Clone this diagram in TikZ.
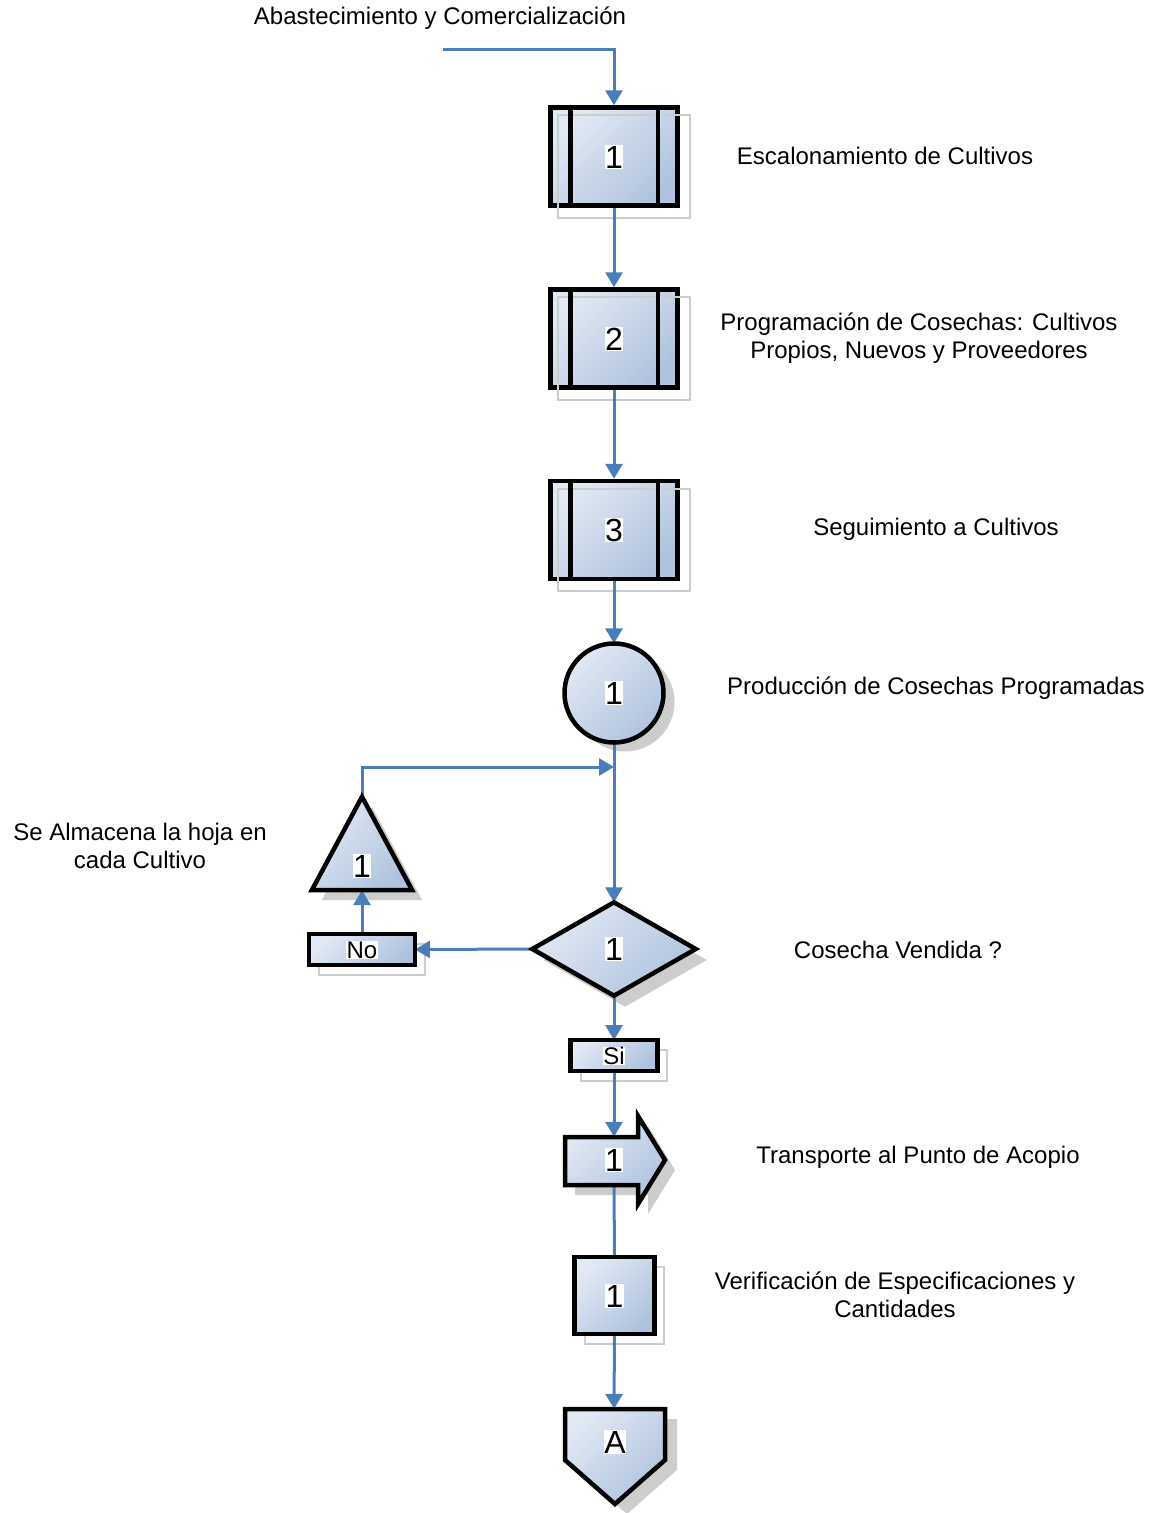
\documentclass[tikz,border=0pt]{standalone}
\usepackage{fontspec}
\setmainfont{Liberation Sans}
\usetikzlibrary{arrows.meta,shapes.geometric}
\definecolor{flowblue}{HTML}{4A7EBB}
\definecolor{filllight}{HTML}{E1E9F4}
\definecolor{filldark}{HTML}{B0C3DE}
\definecolor{shadowgray}{HTML}{CDCDCD}
\tikzset{
  conn/.style={draw=flowblue, line width=3pt, -{Triangle[length=15pt,width=17pt]}},
  link/.style={draw=flowblue, line width=3pt},
  symfill/.style={left color=filllight, right color=filldark, shading angle=45},
  symline/.style={draw=black, line width=4.5pt},
  boxnode/.style={symfill, symline, rectangle, inner sep=0pt},
  ghost/.style={rectangle, inner sep=0pt, draw=none},
  shadowline/.style={draw=shadowgray, line width=2pt},
  shadowfill/.style={fill=shadowgray, draw=none},
  num/.style={fill=white, inner sep=0.5pt, text height=23pt, text depth=0pt,
              font=\fontsize{32}{32}\selectfont},
  tag/.style={fill=white, inner sep=0.5pt, text height=17pt, text depth=0pt,
              font=\fontsize{24}{24}\selectfont},
  lbl/.style={align=center, inner sep=0pt, font=\fontsize{24}{28}\selectfont},
}
\begin{document}
\begin{tikzpicture}[x=1pt, y=-1pt]
\useasboundingbox (0,0) rectangle (1162,1513);

% ---------- symbol frames (nodes) ----------
\node[boxnode, minimum width=127pt, minimum height=98pt] (p1) at (614,156.5) {};
\node[boxnode, minimum width=127pt, minimum height=98pt] (p2) at (614,338.5) {};
\node[boxnode, minimum width=127pt, minimum height=98pt] (p3) at (614,530) {};
\node[ghost, circle, minimum size=99pt] (c1) at (614,693) {};
\node[ghost, minimum width=100pt, minimum height=93pt] (t1) at (362,843.5) {};
\node[ghost, minimum width=105.5pt, minimum height=30.5pt] (no) at (362,949.5) {};
\node[ghost, diamond, minimum width=163pt, minimum height=93pt] (d1) at (614,949) {};
\node[ghost, minimum width=86.5pt, minimum height=30.5pt] (si) at (614,1055.5) {};
\node[ghost, minimum width=100pt, minimum height=48pt] (tr1) at (614,1161) {};
\node[ghost, minimum width=79.5pt, minimum height=76.5pt] (v1) at (614.5,1295.5) {};
\node[ghost, minimum width=100pt, minimum height=96pt] (offp) at (614,1457) {};

% ---------- shadows ----------
\foreach \b in {p1,p2,p3,no,si,v1}
  \draw[shadowline] ([shift={(10,10)}]\b.north west) rectangle ([shift={(10,10)}]\b.south east);
\fill[shadowfill] ([shift={(11,9)}]c1.center) circle (49.5pt);
\fill[shadowfill] ([shift={(10,10)}]t1.north) -- ([shift={(10,10)}]t1.south east)
  -- ([shift={(10,10)}]t1.south west) -- cycle;
\fill[shadowfill] ([shift={(11,11)}]d1.north) -- ([shift={(11,11)}]d1.east)
  -- ([shift={(11,11)}]d1.south) -- ([shift={(11,11)}]d1.west) -- cycle;
\begin{scope}[shift={(10,10)}]
  \fill[shadowfill] (565,1137) -- (638,1137) -- (638,1116) -- (665,1160)
    -- (638,1204) -- (638,1185) -- (565,1185) -- cycle;
\end{scope}
\begin{scope}[shift={(12,10)}]
  \fill[shadowfill] (565,1409) -- (665,1409) -- (665,1460) -- (615,1504)
    -- (565,1460) -- cycle;
\end{scope}

% ---------- connectors ----------
\coordinate (src) at (443,49);
\coordinate (merge) at (614,767);
\draw[conn] (src) -| (p1.north);
\draw[conn] (p1.south) -- (p2.north);
\draw[conn] (p2.south) -- (p3.north);
\draw[conn] (p3.south) -- (c1.north);
\draw[conn] (c1.south) -- (d1.north);
\draw[conn] (t1.north) |- (merge);
\draw[conn] (d1.west) -- (no.east);
\draw[conn] (no.north) -- (t1.south);
\draw[conn] (d1.south) -- (si.north);
\draw[conn] (si.south) -- (tr1.north);
\draw[link] (tr1.south) -- (v1.north);
\draw[conn] (v1.south) -- (offp.north);

% ---------- symbols ----------
\foreach \b in {p1,p2,p3}{
  \draw[line width=4.5pt] ([xshift=22pt]\b.north west) -- ([xshift=22pt]\b.south west);
  \draw[line width=4.5pt] ([xshift=-22pt]\b.north east) -- ([xshift=-22pt]\b.south east);
}
\path[symfill, symline] (c1.center) circle (49.5pt);
\path[symfill, symline] (t1.north) -- (t1.south east) -- (t1.south west) -- cycle;
\path[symfill, symline] (no.north west) rectangle (no.south east);
\path[symfill, symline] (d1.north) -- (d1.east) -- (d1.south) -- (d1.west) -- cycle;
\path[symfill, symline] (si.north west) rectangle (si.south east);
\path[symfill, symline] (565,1137) -- (638,1137) -- (638,1116) -- (665,1160)
  -- (638,1204) -- (638,1185) -- (565,1185) -- cycle;
\path[symfill, symline] (v1.north west) rectangle (v1.south east);
\path[symfill, symline] (565,1409) -- (665,1409) -- (665,1460) -- (615,1504)
  -- (565,1460) -- cycle;

% ---------- symbol numbers ----------
\node[num] (n1) at (p1) {1};
\node[num] (n2) at (p2) {2};
\node[num] (n3) at (p3) {3};
\node[num] (n4) at (c1) {1};
\node[num] (n5) at (362,866) {1};
\node[tag] (n6) at (no) {No};
\node[num] (n7) at (d1) {1};
\node[tag] (n8) at (si) {Si};
\node[num] (n9) at (614,1160) {1};
\node[num] (n10) at (v1) {1};
\node[num] (n11) at (615,1442) {A};

% ---------- descriptions ----------
\node[lbl] (l0) at (440,18) {Abastecimiento y Comercialización};
\node[lbl] (l1) at (885,156) {Escalonamiento de Cultivos};
\node[lbl] (l2) at (919,338) {Programación de Cosechas: Cultivos\\Propios, Nuevos y Proveedores};
\node[lbl] (l3) at (936,529) {Seguimiento a Cultivos};
\node[lbl] (l4) at (936,688) {Producción de Cosechas Programadas};
\node[lbl] (l5) at (140,846) {Se Almacena la hoja en\\cada Cultivo};
\node[lbl] (l6) at (898,950) {Cosecha Vendida ?};
\node[lbl] (l7) at (918,1157) {Transporte al Punto de Acopio};
\node[lbl] (l8) at (895,1295) {Verificación de Especificaciones y\\Cantidades};
\end{tikzpicture}
\end{document}
